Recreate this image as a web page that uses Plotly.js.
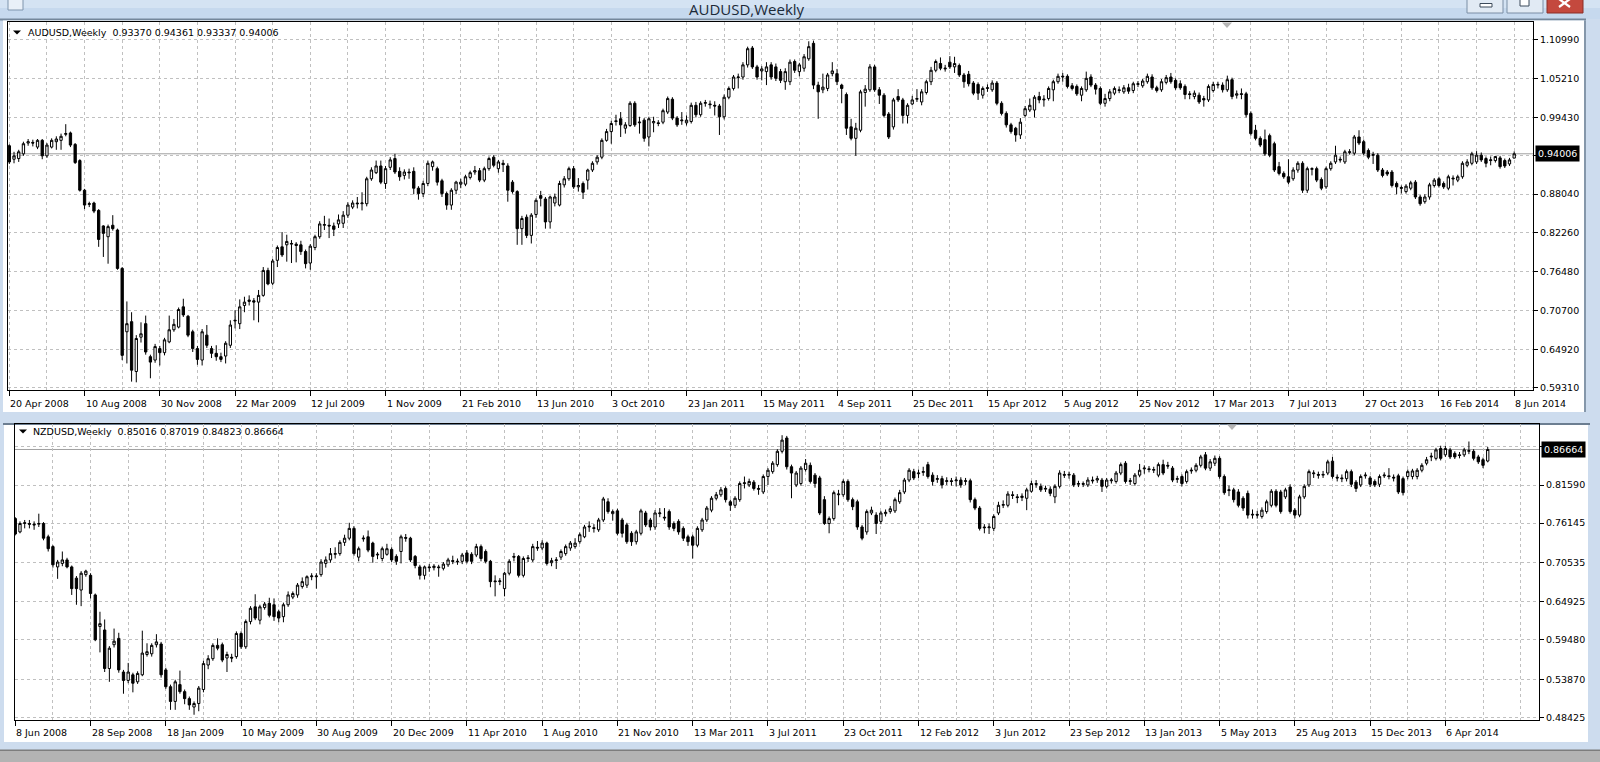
<!DOCTYPE html>
<html>
<head>
<meta charset="utf-8">
<script src="https://cdn.plot.ly/plotly-3.0.1.min.js"></script>
<style>html,body{margin:0;padding:0;background:#cddcee;}#chart{width:1600px;height:762px;}</style>
</head>
<body>
<div id="chart"></div>
<script>
// ---------------- DATA ----------------
const AUD_START = "2008-04-20";
const AUD_OPEN = [
0.952,0.932,0.933,0.940,0.956,0.957,0.950,0.960,0.937,0.950,
0.958,0.960,0.969,0.971,0.954,0.930,0.886,0.865,0.867,0.856,
0.833,0.817,0.834,0.827,0.770,0.676,0.691,0.617,0.668,0.688,
0.639,0.634,0.651,0.645,0.661,0.679,0.683,0.713,0.699,0.676,
0.651,0.634,0.671,0.651,0.644,0.639,0.640,0.656,0.692,0.688,
0.715,0.721,0.722,0.720,0.730,0.767,0.748,0.782,0.802,0.805,
0.806,0.806,0.805,0.795,0.778,0.801,0.817,0.834,0.834,0.833,
0.836,0.837,0.849,0.861,0.867,0.866,0.866,0.903,0.912,0.922,
0.896,0.920,0.933,0.914,0.908,0.913,0.914,0.889,0.881,0.896,
0.921,0.918,0.900,0.881,0.864,0.886,0.895,0.895,0.905,0.913,
0.915,0.901,0.918,0.935,0.918,0.926,0.922,0.898,0.884,0.829,
0.846,0.819,0.850,0.878,0.873,0.839,0.867,0.864,0.894,0.903,
0.918,0.891,0.896,0.901,0.916,0.928,0.935,0.960,0.973,0.989,
0.992,0.978,0.982,1.015,0.986,0.990,0.965,0.986,0.986,0.987,
1.002,1.021,0.993,0.989,0.986,0.988,1.012,0.998,1.015,1.014,
1.012,1.011,0.995,1.024,1.037,1.053,1.054,1.072,1.097,1.069,
1.063,1.062,1.072,1.069,1.062,1.047,1.047,1.077,1.062,1.067,
1.081,1.104,1.042,1.035,1.037,1.059,1.059,1.042,1.028,0.980,
0.963,0.975,1.031,1.035,1.069,1.035,1.027,0.999,0.980,1.025,
1.020,0.997,1.014,1.021,1.017,1.031,1.047,1.064,1.074,1.066,
1.076,1.069,1.071,1.057,1.058,1.045,1.043,1.027,1.037,1.035,
1.045,1.015,1.000,0.983,0.978,0.968,0.997,1.005,1.005,1.025,
1.020,1.022,1.035,1.047,1.054,1.055,1.041,1.040,1.027,1.035,
1.054,1.042,1.037,1.015,1.022,1.030,1.035,1.032,1.038,1.034,
1.043,1.041,1.047,1.054,1.038,1.035,1.046,1.054,1.049,1.044,
1.040,1.029,1.025,1.027,1.022,1.020,1.034,1.042,1.042,1.035,
1.050,1.027,1.028,1.029,1.000,0.975,0.963,0.961,0.967,0.955,
0.921,0.911,0.906,0.903,0.916,0.926,0.886,0.917,0.918,0.902,
0.891,0.918,0.928,0.932,0.928,0.942,0.941,0.965,0.958,0.945,
0.939,0.938,0.916,0.913,0.913,0.896,0.890,0.884,0.889,0.898,
0.876,0.869,0.876,0.893,0.903,0.896,0.889,0.904,0.901,0.906,
0.923,0.926,0.928,0.938,0.933,0.930,0.930,0.934,0.930,0.925,
0.93370];
const AUD_HIGH = [
0.954,0.943,0.946,0.958,0.962,0.961,0.962,0.962,0.956,0.963,
0.966,0.970,0.984,0.973,0.956,0.932,0.888,0.869,0.869,0.858,
0.834,0.835,0.849,0.829,0.772,0.721,0.705,0.671,0.690,0.700,
0.642,0.658,0.655,0.667,0.700,0.695,0.712,0.725,0.701,0.679,
0.655,0.680,0.686,0.655,0.656,0.645,0.662,0.693,0.708,0.724,
0.728,0.730,0.726,0.738,0.772,0.771,0.784,0.804,0.824,0.820,
0.812,0.809,0.811,0.798,0.806,0.820,0.840,0.848,0.844,0.838,
0.850,0.855,0.868,0.871,0.876,0.883,0.906,0.920,0.930,0.930,
0.922,0.935,0.940,0.920,0.917,0.918,0.920,0.892,0.900,0.930,
0.930,0.921,0.903,0.884,0.889,0.900,0.903,0.909,0.915,0.922,
0.919,0.921,0.936,0.938,0.931,0.931,0.926,0.901,0.886,0.848,
0.850,0.852,0.874,0.885,0.876,0.878,0.881,0.900,0.907,0.921,
0.922,0.904,0.899,0.918,0.929,0.938,0.963,0.977,0.989,0.998,
1.002,0.987,1.018,1.018,0.995,0.993,0.995,0.995,0.990,1.007,
1.025,1.024,0.996,1.002,0.997,1.016,1.017,1.018,1.020,1.019,
1.018,1.014,1.028,1.040,1.057,1.059,1.076,1.099,1.100,1.072,
1.070,1.076,1.076,1.074,1.066,1.067,1.080,1.080,1.075,1.088,
1.107,1.108,1.047,1.059,1.060,1.076,1.066,1.044,1.031,0.992,
0.986,1.035,1.042,1.073,1.072,1.039,1.030,1.002,1.023,1.036,
1.023,1.015,1.026,1.036,1.036,1.050,1.069,1.080,1.083,1.072,
1.085,1.084,1.074,1.060,1.063,1.048,1.046,1.040,1.043,1.049,
1.048,1.018,1.003,0.986,0.980,0.993,1.011,1.022,1.027,1.032,
1.027,1.040,1.050,1.059,1.060,1.058,1.045,1.043,1.040,1.062,
1.058,1.045,1.040,1.029,1.036,1.040,1.040,1.042,1.044,1.047,
1.048,1.051,1.059,1.058,1.041,1.051,1.057,1.060,1.052,1.049,
1.043,1.033,1.034,1.031,1.026,1.043,1.047,1.047,1.046,1.056,
1.053,1.034,1.037,1.032,1.003,0.983,0.966,0.976,0.970,0.958,
0.928,0.914,0.932,0.920,0.929,0.929,0.921,0.920,0.921,0.905,
0.921,0.929,0.952,0.936,0.946,0.947,0.968,0.975,0.961,0.948,
0.943,0.941,0.919,0.916,0.916,0.899,0.893,0.895,0.900,0.901,
0.879,0.880,0.897,0.904,0.906,0.899,0.909,0.908,0.909,0.929,
0.932,0.943,0.944,0.942,0.936,0.936,0.937,0.937,0.933,0.934,
0.94361];
const AUD_LOW = [
0.925,0.926,0.928,0.937,0.952,0.951,0.947,0.932,0.934,0.948,
0.946,0.946,0.966,0.950,0.925,0.884,0.858,0.861,0.852,0.802,
0.787,0.777,0.826,0.768,0.634,0.629,0.602,0.601,0.660,0.642,
0.607,0.630,0.626,0.641,0.659,0.676,0.681,0.698,0.668,0.646,
0.627,0.626,0.652,0.637,0.633,0.631,0.629,0.652,0.681,0.680,
0.705,0.715,0.693,0.690,0.728,0.745,0.745,0.772,0.787,0.780,
0.778,0.779,0.790,0.770,0.768,0.797,0.814,0.827,0.815,0.818,
0.830,0.830,0.845,0.858,0.859,0.856,0.862,0.900,0.910,0.895,
0.888,0.916,0.910,0.900,0.902,0.903,0.880,0.872,0.876,0.892,
0.915,0.893,0.876,0.857,0.857,0.880,0.889,0.892,0.902,0.909,
0.898,0.898,0.915,0.920,0.912,0.913,0.869,0.881,0.805,0.805,
0.815,0.807,0.845,0.862,0.829,0.829,0.862,0.862,0.890,0.900,
0.888,0.884,0.873,0.887,0.913,0.924,0.932,0.958,0.955,0.982,
0.965,0.970,0.980,0.980,0.970,0.958,0.951,0.972,0.981,0.984,
0.999,0.990,0.980,0.983,0.982,0.985,0.994,0.995,1.010,1.007,
0.997,0.968,0.991,1.021,1.034,1.037,1.050,1.068,1.066,1.050,
1.049,1.042,1.050,1.048,1.045,1.035,1.042,1.060,1.055,1.062,
1.078,1.036,0.992,1.030,1.033,1.055,1.042,1.015,0.968,0.960,
0.937,0.972,1.010,1.032,1.032,1.014,0.994,0.962,0.976,1.017,
0.985,0.985,1.012,1.017,1.012,1.028,1.042,1.061,1.064,1.062,
1.066,1.060,1.054,1.038,1.040,1.027,1.020,1.022,1.032,1.032,
1.012,0.997,0.979,0.970,0.958,0.962,0.994,1.002,0.994,1.015,
1.010,1.019,1.018,1.044,1.047,1.037,1.034,1.026,1.018,1.032,
1.039,1.028,1.012,1.010,1.018,1.027,1.030,1.029,1.029,1.030,
1.039,1.038,1.044,1.035,1.031,1.032,1.043,1.044,1.035,1.035,
1.021,1.021,1.021,1.014,1.010,1.017,1.031,1.037,1.031,1.032,
1.021,1.022,1.021,0.994,0.967,0.960,0.950,0.937,0.935,0.913,
0.908,0.903,0.895,0.900,0.912,0.882,0.882,0.908,0.898,0.886,
0.888,0.915,0.925,0.927,0.925,0.939,0.938,0.953,0.938,0.932,
0.925,0.913,0.905,0.907,0.890,0.880,0.881,0.881,0.886,0.873,
0.863,0.866,0.872,0.890,0.890,0.888,0.886,0.893,0.898,0.903,
0.920,0.923,0.925,0.928,0.920,0.923,0.927,0.918,0.919,0.922,
0.93337];
const AUD_CLOSE = [
0.928,0.937,0.943,0.955,0.958,0.956,0.960,0.937,0.953,0.960,
0.962,0.966,0.970,0.953,0.927,0.886,0.864,0.866,0.855,0.813,
0.822,0.832,0.829,0.770,0.641,0.688,0.619,0.666,0.673,0.646,
0.631,0.654,0.645,0.664,0.679,0.687,0.709,0.701,0.671,0.651,
0.635,0.676,0.656,0.644,0.639,0.635,0.659,0.686,0.693,0.713,
0.720,0.723,0.720,0.730,0.767,0.747,0.781,0.801,0.790,0.810,
0.807,0.804,0.795,0.777,0.803,0.817,0.836,0.835,0.833,0.828,
0.842,0.849,0.864,0.867,0.866,0.867,0.903,0.916,0.922,0.898,
0.918,0.931,0.913,0.906,0.913,0.912,0.889,0.881,0.896,0.926,
0.928,0.898,0.881,0.864,0.886,0.898,0.898,0.906,0.912,0.915,
0.901,0.918,0.933,0.923,0.928,0.924,0.886,0.884,0.829,0.844,
0.819,0.849,0.871,0.874,0.839,0.876,0.876,0.896,0.903,0.918,
0.891,0.893,0.883,0.916,0.926,0.935,0.960,0.973,0.985,0.988,
0.983,0.983,1.015,0.983,0.987,0.963,0.992,0.988,0.985,1.004,
1.022,0.993,0.983,0.990,0.990,1.012,0.998,1.015,1.016,1.013,
1.011,0.995,1.024,1.037,1.054,1.054,1.072,1.096,1.069,1.054,
1.066,1.069,1.054,1.052,1.049,1.062,1.076,1.064,1.072,1.084,
1.099,1.042,1.032,1.039,1.057,1.063,1.047,1.037,0.978,0.963,
0.978,1.032,1.036,1.069,1.035,1.027,0.997,0.965,1.020,1.020,
0.997,1.012,1.020,1.022,1.032,1.047,1.064,1.077,1.067,1.067,
1.069,1.074,1.057,1.047,1.044,1.030,1.030,1.037,1.038,1.045,
1.015,1.000,0.983,0.973,0.968,0.987,1.007,1.012,1.024,1.020,
1.021,1.037,1.047,1.055,1.055,1.040,1.037,1.029,1.037,1.052,
1.042,1.036,1.015,1.022,1.032,1.037,1.034,1.038,1.033,1.044,
1.044,1.048,1.055,1.038,1.034,1.047,1.053,1.047,1.038,1.038,
1.028,1.028,1.030,1.017,1.020,1.040,1.043,1.043,1.035,1.050,
1.025,1.029,1.029,0.998,0.970,0.963,0.953,0.940,0.938,0.916,
0.911,0.906,0.898,0.916,0.926,0.886,0.918,0.918,0.901,0.889,
0.918,0.926,0.938,0.931,0.943,0.943,0.965,0.956,0.941,0.935,
0.938,0.916,0.908,0.910,0.893,0.891,0.889,0.892,0.897,0.876,
0.866,0.876,0.894,0.901,0.893,0.891,0.906,0.903,0.906,0.926,
0.928,0.940,0.938,0.931,0.926,0.931,0.936,0.921,0.922,0.931,
0.94006];

const NZD_START = "2008-06-08";
const NZD_OPEN = [
0.768,0.749,0.761,0.761,0.760,0.760,0.761,0.742,0.728,0.699,
0.704,0.709,0.699,0.683,0.666,0.688,0.687,0.659,0.614,0.609,
0.554,0.588,0.597,0.549,0.537,0.545,0.535,0.545,0.574,0.575,
0.588,0.589,0.552,0.528,0.507,0.531,0.521,0.511,0.499,0.504,
0.524,0.559,0.568,0.587,0.588,0.569,0.570,0.571,0.604,0.585,
0.621,0.642,0.623,0.641,0.647,0.645,0.635,0.628,0.645,0.656,
0.659,0.671,0.673,0.685,0.685,0.688,0.704,0.709,0.717,0.718,
0.734,0.740,0.754,0.713,0.739,0.742,0.733,0.716,0.711,0.717,
0.724,0.714,0.721,0.741,0.740,0.714,0.699,0.687,0.699,0.698,
0.699,0.697,0.702,0.708,0.706,0.707,0.719,0.717,0.716,0.728,
0.721,0.707,0.679,0.678,0.668,0.690,0.714,0.714,0.687,0.712,
0.709,0.727,0.726,0.733,0.705,0.708,0.713,0.718,0.726,0.728,
0.735,0.742,0.756,0.755,0.752,0.766,0.792,0.775,0.779,0.766,
0.759,0.747,0.735,0.747,0.776,0.766,0.756,0.775,0.770,0.778,
0.761,0.764,0.754,0.742,0.742,0.730,0.752,0.766,0.780,0.797,
0.802,0.811,0.792,0.787,0.795,0.818,0.816,0.820,0.811,0.806,
0.828,0.835,0.845,0.864,0.883,0.842,0.816,0.818,0.838,0.844,
0.830,0.826,0.795,0.761,0.768,0.802,0.802,0.821,0.795,0.792,
0.756,0.749,0.776,0.773,0.764,0.775,0.778,0.779,0.792,0.806,
0.823,0.835,0.832,0.834,0.845,0.830,0.824,0.825,0.821,0.822,
0.822,0.823,0.821,0.822,0.795,0.783,0.756,0.755,0.754,0.776,
0.787,0.787,0.802,0.799,0.798,0.797,0.807,0.818,0.814,0.810,
0.810,0.799,0.814,0.831,0.830,0.830,0.817,0.818,0.816,0.823,
0.823,0.823,0.814,0.822,0.821,0.833,0.847,0.821,0.818,0.830,
0.839,0.839,0.837,0.830,0.845,0.844,0.840,0.824,0.828,0.821,
0.836,0.837,0.844,0.859,0.840,0.847,0.854,0.828,0.808,0.809,
0.806,0.797,0.804,0.773,0.774,0.771,0.778,0.787,0.807,0.806,
0.799,0.813,0.780,0.773,0.799,0.816,0.832,0.831,0.830,0.833,
0.850,0.827,0.826,0.825,0.835,0.820,0.816,0.829,0.826,0.821,
0.817,0.829,0.829,0.827,0.829,0.825,0.828,0.828,0.828,0.837,
0.847,0.856,0.854,0.868,0.859,0.866,0.861,0.859,0.859,0.864,
0.864,0.856,0.852,0.85016];
const NZD_HIGH = [
0.770,0.764,0.766,0.766,0.764,0.775,0.763,0.745,0.730,0.709,
0.721,0.712,0.701,0.686,0.693,0.695,0.690,0.661,0.635,0.624,
0.586,0.611,0.605,0.552,0.562,0.548,0.550,0.608,0.590,0.590,
0.603,0.592,0.555,0.531,0.538,0.551,0.524,0.514,0.507,0.529,
0.565,0.573,0.590,0.597,0.591,0.578,0.575,0.607,0.607,0.624,
0.643,0.660,0.645,0.649,0.655,0.654,0.638,0.648,0.664,0.664,
0.676,0.684,0.687,0.690,0.690,0.710,0.714,0.726,0.727,0.737,
0.745,0.762,0.757,0.728,0.744,0.751,0.735,0.720,0.728,0.732,
0.727,0.717,0.745,0.746,0.742,0.716,0.702,0.701,0.703,0.703,
0.702,0.706,0.712,0.715,0.711,0.719,0.723,0.720,0.732,0.731,
0.724,0.709,0.687,0.683,0.692,0.710,0.719,0.716,0.714,0.716,
0.732,0.736,0.737,0.735,0.712,0.713,0.724,0.731,0.736,0.740,
0.748,0.759,0.764,0.760,0.769,0.799,0.797,0.781,0.782,0.769,
0.762,0.750,0.752,0.782,0.779,0.769,0.780,0.783,0.783,0.781,
0.764,0.767,0.757,0.745,0.745,0.757,0.769,0.786,0.800,0.806,
0.813,0.814,0.795,0.800,0.821,0.828,0.825,0.823,0.816,0.831,
0.840,0.850,0.867,0.887,0.886,0.845,0.836,0.843,0.853,0.848,
0.833,0.829,0.800,0.771,0.808,0.809,0.824,0.824,0.798,0.795,
0.759,0.781,0.785,0.777,0.779,0.781,0.786,0.798,0.809,0.826,
0.840,0.839,0.838,0.842,0.849,0.834,0.830,0.829,0.827,0.826,
0.828,0.827,0.826,0.825,0.798,0.786,0.760,0.761,0.774,0.792,
0.794,0.807,0.807,0.803,0.804,0.812,0.822,0.823,0.818,0.815,
0.814,0.817,0.837,0.836,0.835,0.833,0.822,0.821,0.827,0.828,
0.829,0.826,0.826,0.826,0.836,0.848,0.850,0.826,0.833,0.846,
0.844,0.843,0.842,0.848,0.852,0.849,0.843,0.829,0.831,0.838,
0.841,0.847,0.859,0.863,0.853,0.858,0.857,0.831,0.815,0.812,
0.810,0.800,0.808,0.781,0.779,0.784,0.795,0.810,0.810,0.809,
0.812,0.817,0.783,0.802,0.817,0.838,0.837,0.835,0.836,0.852,
0.856,0.831,0.831,0.838,0.838,0.823,0.831,0.834,0.829,0.824,
0.831,0.834,0.840,0.831,0.832,0.828,0.838,0.839,0.840,0.847,
0.856,0.862,0.869,0.872,0.872,0.869,0.864,0.863,0.869,0.878,
0.867,0.859,0.855,0.87019];
const NZD_LOW = [
0.744,0.747,0.754,0.754,0.752,0.756,0.737,0.721,0.698,0.682,
0.700,0.697,0.659,0.645,0.643,0.685,0.654,0.593,0.577,0.549,
0.535,0.584,0.548,0.518,0.533,0.520,0.532,0.543,0.571,0.571,
0.584,0.541,0.525,0.495,0.495,0.518,0.503,0.495,0.488,0.493,
0.520,0.553,0.565,0.580,0.563,0.549,0.563,0.568,0.582,0.582,
0.617,0.623,0.617,0.638,0.627,0.622,0.620,0.620,0.642,0.653,
0.655,0.668,0.669,0.680,0.668,0.685,0.698,0.705,0.711,0.715,
0.729,0.737,0.715,0.707,0.735,0.720,0.705,0.710,0.707,0.715,
0.706,0.702,0.704,0.735,0.706,0.697,0.681,0.681,0.692,0.694,
0.685,0.694,0.699,0.703,0.702,0.703,0.704,0.703,0.713,0.707,
0.704,0.670,0.657,0.673,0.657,0.687,0.707,0.684,0.684,0.706,
0.706,0.722,0.723,0.701,0.700,0.696,0.709,0.715,0.722,0.725,
0.732,0.740,0.749,0.748,0.749,0.763,0.775,0.765,0.744,0.741,
0.732,0.729,0.731,0.744,0.756,0.751,0.752,0.770,0.765,0.752,
0.750,0.745,0.736,0.729,0.711,0.727,0.749,0.763,0.777,0.794,
0.799,0.791,0.779,0.783,0.792,0.811,0.813,0.808,0.802,0.803,
0.816,0.832,0.842,0.861,0.838,0.797,0.813,0.815,0.835,0.818,
0.812,0.773,0.759,0.747,0.765,0.787,0.799,0.792,0.780,0.752,
0.737,0.745,0.773,0.746,0.760,0.771,0.775,0.776,0.789,0.803,
0.820,0.823,0.826,0.829,0.825,0.815,0.819,0.811,0.816,0.815,
0.814,0.812,0.816,0.791,0.780,0.751,0.747,0.746,0.750,0.773,
0.783,0.784,0.796,0.790,0.793,0.780,0.805,0.812,0.806,0.806,
0.800,0.790,0.811,0.826,0.825,0.813,0.813,0.813,0.813,0.818,
0.819,0.806,0.811,0.818,0.818,0.830,0.818,0.816,0.815,0.827,
0.832,0.834,0.833,0.827,0.830,0.839,0.820,0.819,0.814,0.818,
0.832,0.834,0.841,0.837,0.836,0.843,0.825,0.802,0.800,0.791,
0.784,0.779,0.768,0.768,0.768,0.768,0.775,0.784,0.784,0.775,
0.796,0.775,0.768,0.770,0.796,0.813,0.826,0.825,0.826,0.830,
0.825,0.821,0.820,0.821,0.813,0.806,0.813,0.825,0.813,0.813,
0.813,0.826,0.824,0.821,0.803,0.801,0.824,0.824,0.824,0.834,
0.844,0.850,0.851,0.851,0.856,0.853,0.853,0.854,0.856,0.860,
0.851,0.846,0.840,0.84823];
const NZD_CLOSE = [
0.746,0.761,0.762,0.760,0.759,0.761,0.740,0.725,0.702,0.706,
0.709,0.699,0.668,0.668,0.690,0.693,0.661,0.595,0.618,0.554,
0.583,0.593,0.552,0.537,0.549,0.533,0.547,0.576,0.578,0.587,
0.592,0.545,0.528,0.507,0.535,0.521,0.511,0.502,0.504,0.526,
0.561,0.568,0.587,0.583,0.566,0.574,0.569,0.604,0.585,0.621,
0.640,0.626,0.642,0.646,0.630,0.628,0.626,0.645,0.659,0.661,
0.673,0.678,0.685,0.686,0.686,0.706,0.709,0.718,0.718,0.734,
0.740,0.754,0.718,0.725,0.740,0.723,0.714,0.717,0.725,0.725,
0.709,0.707,0.742,0.740,0.709,0.701,0.687,0.699,0.698,0.700,
0.698,0.703,0.709,0.707,0.707,0.716,0.707,0.707,0.728,0.711,
0.707,0.678,0.678,0.679,0.690,0.707,0.713,0.687,0.711,0.711,
0.728,0.726,0.733,0.704,0.708,0.709,0.721,0.728,0.733,0.733,
0.745,0.756,0.757,0.754,0.766,0.796,0.778,0.778,0.747,0.747,
0.735,0.735,0.749,0.779,0.759,0.756,0.776,0.776,0.769,0.756,
0.754,0.749,0.740,0.735,0.730,0.754,0.766,0.783,0.797,0.802,
0.809,0.795,0.787,0.797,0.818,0.819,0.821,0.811,0.810,0.828,
0.837,0.847,0.864,0.880,0.842,0.833,0.833,0.840,0.847,0.821,
0.818,0.776,0.761,0.768,0.805,0.803,0.821,0.795,0.785,0.756,
0.740,0.778,0.780,0.761,0.776,0.777,0.782,0.795,0.805,0.823,
0.837,0.826,0.833,0.835,0.828,0.821,0.825,0.816,0.822,0.821,
0.823,0.816,0.822,0.795,0.783,0.754,0.755,0.756,0.771,0.787,
0.788,0.803,0.801,0.798,0.800,0.809,0.818,0.817,0.809,0.811,
0.804,0.814,0.833,0.830,0.831,0.816,0.818,0.817,0.823,0.822,
0.825,0.814,0.823,0.823,0.833,0.845,0.821,0.822,0.830,0.837,
0.840,0.838,0.838,0.845,0.833,0.843,0.823,0.825,0.818,0.835,
0.837,0.844,0.856,0.840,0.849,0.854,0.828,0.805,0.809,0.795,
0.787,0.783,0.773,0.774,0.773,0.780,0.792,0.807,0.787,0.778,
0.809,0.778,0.773,0.799,0.814,0.835,0.833,0.830,0.831,0.849,
0.828,0.826,0.825,0.835,0.817,0.811,0.828,0.830,0.817,0.816,
0.828,0.830,0.828,0.826,0.806,0.805,0.835,0.836,0.837,0.844,
0.852,0.857,0.866,0.854,0.868,0.856,0.856,0.858,0.866,0.865,
0.854,0.849,0.844,0.86664];

const AUD_TICK_LABELS = ["20 Apr 2008","10 Aug 2008","30 Nov 2008","22 Mar 2009","12 Jul 2009","1 Nov 2009","21 Feb 2010","13 Jun 2010","3 Oct 2010","23 Jan 2011","15 May 2011","4 Sep 2011","25 Dec 2011","15 Apr 2012","5 Aug 2012","25 Nov 2012","17 Mar 2013","7 Jul 2013","27 Oct 2013","16 Feb 2014","8 Jun 2014"];
const NZD_TICK_LABELS = ["8 Jun 2008","28 Sep 2008","18 Jan 2009","10 May 2009","30 Aug 2009","20 Dec 2009","11 Apr 2010","1 Aug 2010","21 Nov 2010","13 Mar 2011","3 Jul 2011","23 Oct 2011","12 Feb 2012","3 Jun 2012","23 Sep 2012","13 Jan 2013","5 May 2013","25 Aug 2013","15 Dec 2013","6 Apr 2014"];
const AUD_PRICE_TICKS = [0.5931,0.6492,0.7070,0.7648,0.8226,0.8804,0.9374,0.9943,1.0521,1.1099];
const AUD_PRICE_LABELS = ["0.59310","0.64920","0.70700","0.76480","0.82260","0.88040","","0.99430","1.05210","1.10990"];
const NZD_PRICE_TICKS = [0.48425,0.5387,0.5948,0.64925,0.70535,0.76145,0.8159,0.8706];
const NZD_PRICE_LABELS = ["0.48425","0.53870","0.59480","0.64925","0.70535","0.76145","0.81590",""];
const AUD_HEADER = "AUDUSD,Weekly\u00a0\u00a00.93370 0.94361 0.93337 0.94006";
const NZD_HEADER = "NZDUSD,Weekly\u00a0\u00a00.85016 0.87019 0.84823 0.86664";
const AUD_LAST = 0.94006, NZD_LAST = 0.86664;

// ---------------- HELPERS ----------------
const W = 1600, H = 762;
const X = p => p / W;
const Y = p => 1 - p / H;
const WEEK = 7 * 86400000;
function wk(start, w) {
  const t = Date.parse(start + "T00:00:00Z") + w * WEEK;
  return new Date(t).toISOString().slice(0, 19).replace("T", " ");
}
function weekSeries(start, n) { const a = []; for (let i = 0; i < n; i++) a.push(wk(start, i)); return a; }
function stepList(start, from, to, step) { const a = []; for (let w = from; w <= to; w += step) a.push(wk(start, w)); return a; }

const FONT = "DejaVu Sans";
const GRID = "#c0c0c0";

function candle(start, o, h, l, c, xa, ya) {
  return {
    type: "candlestick", x: weekSeries(start, c.length), open: o, high: h, low: l, close: c,
    xaxis: xa, yaxis: ya, whiskerwidth: 0, hoverinfo: "skip", showlegend: false,
    increasing: { line: { color: "#000", width: 1 }, fillcolor: "#ffffff" },
    decreasing: { line: { color: "#000", width: 1 }, fillcolor: "#000000" }
  };
}

function xaxis(start, domain, rng, majorTo, minorVals, anchor) {
  return {
    type: "date", domain: domain, anchor: anchor,
    range: [wk(start, rng[0]), wk(start, rng[1])],
    tickmode: "array", tickvals: stepList(start, 0, majorTo, 16),
    ticks: "outside", ticklen: 5, tickcolor: "#000", tickwidth: 1,
    showticklabels: false, showgrid: true, gridcolor: GRID, gridwidth: 1, griddash: "3px,3px",
    minor: { tickmode: "array", tickvals: minorVals,
             showgrid: true, gridcolor: GRID, gridwidth: 1, griddash: "3px,3px", ticks: "" },
    showline: true, mirror: true, linecolor: "#000", linewidth: 1,
    zeroline: false, fixedrange: true, rangeslider: { visible: false }
  };
}
function yaxis(domain, rng, vals, labels, anchor) {
  return {
    domain: domain, anchor: anchor, side: "right", range: rng,
    tickmode: "array", tickvals: vals, ticktext: labels,
    ticks: "outside", ticklen: 4, tickcolor: "#000", tickwidth: 1,
    tickfont: { family: FONT, size: 9.5, color: "#000" },
    showgrid: true, gridcolor: GRID, gridwidth: 1, griddash: "3px,3px",
    showline: true, mirror: true, linecolor: "#000", linewidth: 1,
    zeroline: false, fixedrange: true
  };
}

const traces = [
  candle(AUD_START, AUD_OPEN, AUD_HIGH, AUD_LOW, AUD_CLOSE, "x", "y"),
  candle(NZD_START, NZD_OPEN, NZD_HIGH, NZD_LOW, NZD_CLOSE, "x2", "y2")
];

// ---------------- DECORATION ----------------
function rect(x0, y0, x1, y1, fill, lineColor, layer) {
  return { type: "rect", xref: "paper", yref: "paper", x0: X(x0), x1: X(x1), y0: Y(y1), y1: Y(y0),
    fillcolor: fill, line: { width: lineColor ? 1 : 0, color: lineColor || fill }, layer: layer || "below" };
}
function pathShape(pts, fill, layer) {
  const d = pts.map((p, i) => (i ? "L" : "M") + " " + X(p[0]) + " " + Y(p[1])).join(" ") + " Z";
  return { type: "path", xref: "paper", yref: "paper", path: d, fillcolor: fill, line: { width: 0 }, layer: layer || "above" };
}
function lineShape(x0, y0, x1, y1, color, w) {
  return { type: "line", xref: "paper", yref: "paper", x0: X(x0), y0: Y(y0), x1: X(x1), y1: Y(y1), line: { color: color, width: w }, layer: "above" };
}

const shapes = [
  rect(0, 0, 1600, 19, "#c6d9ee"),
  rect(0, 0, 1600, 8, "#d4e3f3"),
  rect(0, 18.5, 1586, 20.5, "#74879b"),
  rect(3, 20.5, 1584, 412, "#ffffff"),
  rect(1584, 20.5, 1586, 412, "#8597aa"),
  rect(3, 423, 1590, 425, "#6c7e91"),
  rect(4, 425, 1588, 742, "#ffffff"),
  rect(0, 750, 1600, 762, "#b3b3b3"),
  rect(0, 749.5, 1600, 751, "#7d7d7d"),
  rect(8, -2, 23, 10, "#e9f0f8", "#7f95ad", "above"),
  rect(1467, -3, 1503, 13, "#e1eaf4", "#7a8ea5", "above"),
  rect(1480, 3.5, 1492, 7, "#ffffff", "#3c4a5a", "above"),
  rect(1507, -3, 1543, 13, "#e1eaf4", "#7a8ea5", "above"),
  rect(1520, -1, 1529, 6, "#ffffff", "#3c4a5a", "above"),
  rect(1547, -3, 1583, 13, "#c4493e", "#8a2f27", "above"),
  lineShape(1559, -1, 1570, 7, "#ffffff", 2.2),
  lineShape(1570, -1, 1559, 7, "#ffffff", 2.2),
  pathShape([[13, 30.5], [21, 30.5], [17, 34.5]], "#000"),
  pathShape([[19, 429.5], [27, 429.5], [23, 433.5]], "#000"),
  pathShape([[1222, 22.5], [1232, 22.5], [1227, 28]], "#b5b5b5"),
  pathShape([[1227, 424.5], [1237, 424.5], [1232, 430]], "#b5b5b5"),
  { type: "line", xref: "x domain", yref: "y", x0: 0, x1: 1, y0: AUD_LAST, y1: AUD_LAST, line: { color: "#a0a0a0", width: 1 }, layer: "below" },
  { type: "line", xref: "x2 domain", yref: "y2", x0: 0, x1: 1, y0: NZD_LAST, y1: NZD_LAST, line: { color: "#a0a0a0", width: 1 }, layer: "below" }
];

const annotations = [
  { xref: "paper", yref: "paper", x: X(747), y: Y(9), text: "AUDUSD,Weekly", showarrow: false,
    xanchor: "center", yanchor: "middle", font: { family: "Open Sans", size: 15, color: "#1c2a38" } },
  { xref: "paper", yref: "paper", x: X(26), y: Y(32.5), text: AUD_HEADER, showarrow: false,
    xanchor: "left", yanchor: "middle", font: { family: FONT, size: 9.5, color: "#000" } },
  { xref: "paper", yref: "paper", x: X(31), y: Y(431.5), text: NZD_HEADER, showarrow: false,
    xanchor: "left", yanchor: "middle", font: { family: FONT, size: 9.5, color: "#000" } },
  { xref: "paper", yref: "y", x: X(1535), y: AUD_LAST, text: AUD_LAST.toFixed(5), showarrow: false,
    xanchor: "left", yanchor: "middle", bgcolor: "#000", borderpad: 2, font: { family: FONT, size: 9.5, color: "#fff" } },
  { xref: "paper", yref: "y2", x: X(1541), y: NZD_LAST, text: NZD_LAST.toFixed(5), showarrow: false,
    xanchor: "left", yanchor: "middle", bgcolor: "#000", borderpad: 2, font: { family: FONT, size: 9.5, color: "#fff" } }
];
AUD_TICK_LABELS.forEach((t, k) => annotations.push({ xref: "x", yref: "paper", x: wk(AUD_START, 16 * k), y: Y(403),
  text: t, showarrow: false, xanchor: "left", yanchor: "middle", xshift: -1, font: { family: FONT, size: 9.5, color: "#000" } }));
NZD_TICK_LABELS.forEach((t, k) => annotations.push({ xref: "x2", yref: "paper", x: wk(NZD_START, 16 * k), y: Y(732.5),
  text: t, showarrow: false, xanchor: "left", yanchor: "middle", xshift: -1, font: { family: FONT, size: 9.5, color: "#000" } }));

const xa1 = xaxis(AUD_START, [X(8), X(1533)], [-0.28, 324.0], 320, stepList(AUD_START, 8, 312, 16), "y");
const xa2 = xaxis(NZD_START, [X(15), X(1539)], [-0.06, 323.9], 304, stepList(NZD_START, 8, 312, 16).concat([wk(NZD_START, 320)]), "y2");

const layout = {
  width: W, height: H, margin: { l: 0, r: 0, t: 0, b: 0, pad: 0 },
  paper_bgcolor: "#cddcee", plot_bgcolor: "#ffffff",
  showlegend: false, hovermode: false, dragmode: false,
  xaxis: xa1,
  yaxis: yaxis([Y(390), Y(22)], [0.5896, 1.1356], AUD_PRICE_TICKS, AUD_PRICE_LABELS, "x"),
  xaxis2: xa2,
  yaxis2: yaxis([Y(720), Y(424)], [0.4805, 0.9030], NZD_PRICE_TICKS, NZD_PRICE_LABELS, "x2"),
  shapes: shapes, annotations: annotations
};

Plotly.newPlot("chart", traces, layout, { staticPlot: true, displayModeBar: false });
</script>
</body>
</html>
